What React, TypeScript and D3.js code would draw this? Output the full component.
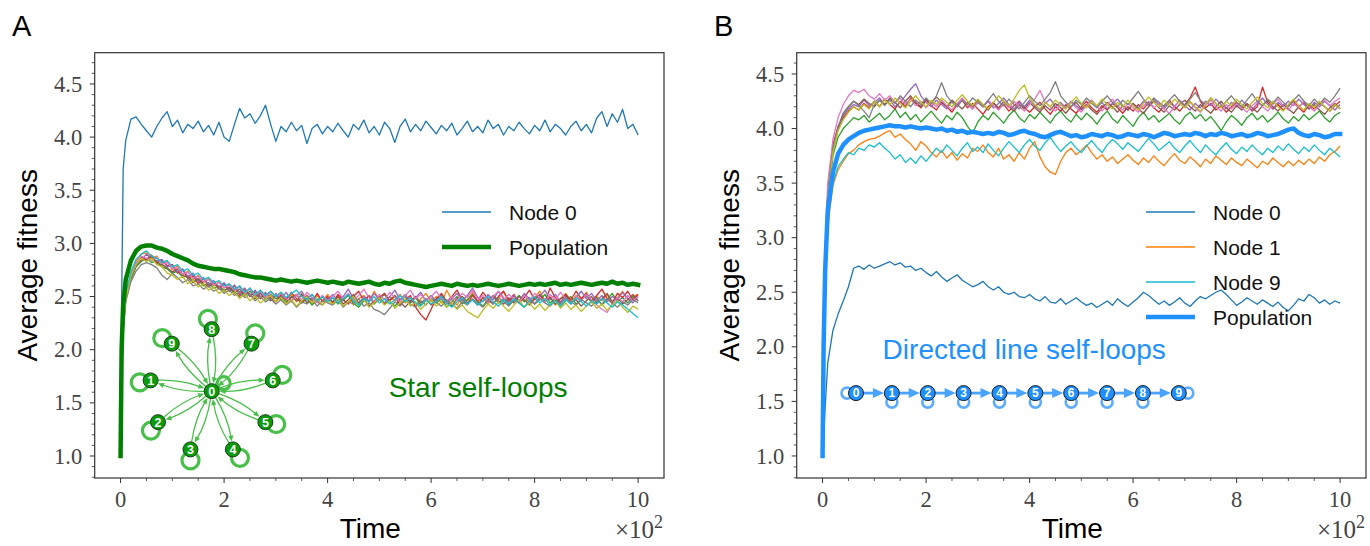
import React from 'react';
import * as d3 from 'd3';

// Sampling grid of time (units of 10^2)
const TIME: number[] = [0, 0.02, 0.05, ...d3.range(1, 101).map((i) => i / 10)];

// ---------- Panel A : star with self-loops ----------
const A_NODE0 = [1.0, 2.4, 3.7,
  3.97, 4.17, 4.19, 4.12, 4.06, 4.0, 4.1, 4.18, 4.24, 4.1,
  4.16, 4.04, 4.12, 4.08, 4.15, 4.05, 4.11, 4.02, 4.14, 4.0,
  3.96, 4.12, 4.27, 4.18, 4.22, 4.13, 4.2, 4.3, 4.12, 3.96,
  4.1, 4.05, 4.14, 4.06, 4.11, 3.94, 4.08, 4.12, 4.03, 4.1,
  4.05, 4.13, 4.06, 4.0, 4.12, 4.07, 4.16, 4.04, 4.1, 4.02,
  4.14, 4.08, 3.95, 4.1, 4.17, 4.05, 4.12, 4.06, 4.15, 4.09,
  4.03, 4.11, 4.06, 4.13, 4.02, 4.08, 4.15, 4.05, 4.1, 4.04,
  4.16, 4.08, 4.12, 4.02, 4.1, 4.06, 4.14, 4.08, 4.03, 4.11,
  4.06, 4.16, 4.05, 4.12, 4.08, 4.02, 4.1, 4.15, 4.06, 4.12,
  4.04, 4.18, 4.24, 4.1, 4.22, 4.14, 4.26, 4.08, 4.12, 4.02];
const A_NODE1 = [1.0, 1.72, 2.22,
  2.5, 2.72, 2.83, 2.9, 2.91, 2.86, 2.88, 2.8, 2.83, 2.75,
  2.79, 2.7, 2.74, 2.66, 2.7, 2.63, 2.67, 2.6, 2.64, 2.58,
  2.62, 2.55, 2.6, 2.52, 2.58, 2.5, 2.56, 2.49, 2.55, 2.5,
  2.54, 2.47, 2.52, 2.45, 2.53, 2.48, 2.43, 2.51, 2.46, 2.52,
  2.44, 2.5, 2.46, 2.53, 2.42, 2.48, 2.51, 2.45, 2.55, 2.47,
  2.43, 2.5, 2.46, 2.52, 2.44, 2.49, 2.41, 2.48, 2.53, 2.45,
  2.5, 2.44, 2.56, 2.47, 2.42, 2.5, 2.46, 2.54, 2.45, 2.49,
  2.43, 2.51, 2.47, 2.55, 2.44, 2.5, 2.46, 2.52, 2.43, 2.49,
  2.55, 2.46, 2.5, 2.42, 2.48, 2.53, 2.45, 2.51, 2.47, 2.54,
  2.44, 2.5, 2.46, 2.52, 2.43, 2.49, 2.55, 2.47, 2.5, 2.52];
const A_NODE2 = [1.0, 1.68, 2.18,
  2.47, 2.66, 2.78, 2.83, 2.86, 2.82, 2.84, 2.78, 2.76, 2.72,
  2.74, 2.68, 2.7, 2.64, 2.66, 2.6, 2.63, 2.58, 2.6, 2.56,
  2.58, 2.53, 2.57, 2.51, 2.55, 2.5, 2.54, 2.47, 2.52, 2.48,
  2.5, 2.45, 2.49, 2.52, 2.44, 2.48, 2.42, 2.47, 2.5, 2.45,
  2.49, 2.43, 2.47, 2.51, 2.44, 2.4, 2.46, 2.5, 2.43, 2.48,
  2.52, 2.45, 2.41, 2.47, 2.5, 2.44, 2.49, 2.42, 2.46, 2.51,
  2.44, 2.48, 2.4, 2.45, 2.5, 2.43, 2.47, 2.52, 2.45, 2.41,
  2.47, 2.5, 2.44, 2.48, 2.42, 2.46, 2.51, 2.45, 2.49, 2.43,
  2.47, 2.52, 2.44, 2.48, 2.41, 2.46, 2.5, 2.43, 2.47, 2.51,
  2.45, 2.49, 2.42, 2.47, 2.53, 2.45, 2.49, 2.44, 2.5, 2.46];
const A_NODE3 = [1.0, 1.7, 2.21,
  2.52, 2.71, 2.8, 2.87, 2.85, 2.89, 2.82, 2.84, 2.79, 2.8,
  2.72, 2.75, 2.67, 2.7, 2.62, 2.67, 2.6, 2.64, 2.57, 2.62,
  2.55, 2.6, 2.52, 2.57, 2.5, 2.55, 2.48, 2.53, 2.49, 2.45,
  2.52, 2.47, 2.54, 2.48, 2.44, 2.51, 2.46, 2.53, 2.45, 2.5,
  2.44, 2.52, 2.47, 2.43, 2.5, 2.55, 2.46, 2.51, 2.44, 2.49,
  2.53, 2.46, 2.5, 2.42, 2.47, 2.51, 2.4, 2.33, 2.28, 2.38,
  2.48, 2.53, 2.45, 2.5, 2.56, 2.47, 2.43, 2.51, 2.46, 2.54,
  2.48, 2.43, 2.5, 2.55, 2.46, 2.52, 2.44, 2.49, 2.56, 2.47,
  2.51, 2.45, 2.58, 2.49, 2.44, 2.52, 2.47, 2.55, 2.48, 2.53,
  2.46, 2.51, 2.57, 2.48, 2.44, 2.53, 2.49, 2.55, 2.47, 2.52];
const A_NODE4 = [1.0, 1.71, 2.2,
  2.49, 2.69, 2.82, 2.84, 2.9, 2.85, 2.83, 2.85, 2.78, 2.79,
  2.73, 2.76, 2.69, 2.72, 2.64, 2.68, 2.61, 2.65, 2.59, 2.63,
  2.56, 2.61, 2.54, 2.58, 2.51, 2.56, 2.5, 2.54, 2.47, 2.53,
  2.48, 2.54, 2.46, 2.51, 2.55, 2.47, 2.52, 2.45, 2.5, 2.47,
  2.52, 2.46, 2.5, 2.57, 2.48, 2.43, 2.5, 2.46, 2.53, 2.47,
  2.44, 2.5, 2.56, 2.47, 2.52, 2.45, 2.49, 2.54, 2.46, 2.51,
  2.45, 2.5, 2.43, 2.48, 2.53, 2.46, 2.51, 2.58, 2.49, 2.45,
  2.52, 2.47, 2.55, 2.49, 2.44, 2.51, 2.46, 2.53, 2.48, 2.43,
  2.5, 2.56, 2.47, 2.52, 2.45, 2.5, 2.44, 2.49, 2.55, 2.48,
  2.53, 2.46, 2.51, 2.45, 2.5, 2.47, 2.54, 2.48, 2.44, 2.5];
const A_NODE5 = [1.0, 1.69, 2.19,
  2.48, 2.68, 2.79, 2.85, 2.84, 2.88, 2.81, 2.8, 2.77, 2.73,
  2.76, 2.7, 2.68, 2.63, 2.67, 2.62, 2.59, 2.63, 2.58, 2.55,
  2.59, 2.54, 2.5, 2.55, 2.52, 2.48, 2.53, 2.5, 2.46, 2.51,
  2.47, 2.43, 2.5, 2.46, 2.52, 2.44, 2.49, 2.45, 2.42, 2.48,
  2.45, 2.5, 2.43, 2.47, 2.52, 2.44, 2.48, 2.41, 2.46, 2.5,
  2.43, 2.47, 2.51, 2.45, 2.4, 2.46, 2.5, 2.44, 2.48, 2.42,
  2.47, 2.52, 2.45, 2.41, 2.48, 2.5, 2.44, 2.47, 2.42, 2.49,
  2.45, 2.51, 2.46, 2.43, 2.49, 2.44, 2.5, 2.47, 2.42, 2.48,
  2.52, 2.45, 2.49, 2.43, 2.48, 2.51, 2.44, 2.47, 2.41, 2.46,
  2.5, 2.44, 2.48, 2.53, 2.45, 2.49, 2.43, 2.47, 2.52, 2.46];
const A_NODE6 = [1.0, 1.7, 2.2,
  2.51, 2.7, 2.81, 2.88, 2.86, 2.84, 2.87, 2.81, 2.82, 2.76,
  2.77, 2.71, 2.73, 2.67, 2.69, 2.64, 2.66, 2.61, 2.63, 2.58,
  2.61, 2.56, 2.59, 2.53, 2.57, 2.51, 2.55, 2.49, 2.54, 2.5,
  2.53, 2.48, 2.45, 2.52, 2.47, 2.54, 2.49, 2.44, 2.51, 2.46,
  2.5, 2.55, 2.48, 2.53, 2.46, 2.51, 2.57, 2.49, 2.45, 2.52,
  2.47, 2.54, 2.49, 2.45, 2.51, 2.56, 2.48, 2.52, 2.46, 2.5,
  2.55, 2.48, 2.44, 2.5, 2.46, 2.53, 2.49, 2.56, 2.47, 2.51,
  2.45, 2.5, 2.55, 2.47, 2.52, 2.48, 2.44, 2.51, 2.46, 2.53,
  2.49, 2.45, 2.52, 2.47, 2.54, 2.48, 2.43, 2.5, 2.46, 2.52,
  2.47, 2.42, 2.38, 2.35, 2.43, 2.49, 2.45, 2.51, 2.46, 2.5];
const A_NODE7 = [1.0, 1.68, 2.16,
  2.45, 2.64, 2.74, 2.8, 2.82, 2.8, 2.77, 2.7, 2.66, 2.72,
  2.68, 2.63, 2.66, 2.6, 2.62, 2.57, 2.6, 2.55, 2.58, 2.53,
  2.56, 2.51, 2.54, 2.49, 2.52, 2.46, 2.5, 2.45, 2.48, 2.43,
  2.47, 2.42, 2.46, 2.4, 2.45, 2.43, 2.47, 2.41, 2.46, 2.44,
  2.42, 2.47, 2.4, 2.45, 2.43, 2.48, 2.41, 2.44, 2.38, 2.36,
  2.33, 2.39, 2.45, 2.41, 2.47, 2.43, 2.4, 2.46, 2.42, 2.48,
  2.44, 2.41, 2.47, 2.43, 2.39, 2.45, 2.42, 2.48, 2.44, 2.4,
  2.46, 2.43, 2.49, 2.45, 2.41, 2.47, 2.44, 2.4, 2.46, 2.43,
  2.48, 2.44, 2.41, 2.46, 2.43, 2.49, 2.45, 2.42, 2.47, 2.44,
  2.41, 2.46, 2.43, 2.48, 2.44, 2.4, 2.45, 2.42, 2.47, 2.44];
const A_NODE8 = [1.0, 1.7, 2.19,
  2.48, 2.69, 2.8, 2.86, 2.83, 2.86, 2.8, 2.78, 2.72, 2.7,
  2.66, 2.69, 2.62, 2.65, 2.59, 2.62, 2.56, 2.59, 2.53, 2.56,
  2.51, 2.54, 2.48, 2.52, 2.46, 2.5, 2.44, 2.48, 2.51, 2.45,
  2.49, 2.43, 2.47, 2.41, 2.46, 2.5, 2.44, 2.48, 2.42, 2.46,
  2.43, 2.48, 2.41, 2.45, 2.5, 2.42, 2.47, 2.4, 2.44, 2.49,
  2.42, 2.46, 2.39, 2.44, 2.48, 2.41, 2.45, 2.38, 2.43, 2.47,
  2.41, 2.45, 2.4, 2.44, 2.38, 2.42, 2.36, 2.33, 2.3, 2.37,
  2.43, 2.39, 2.45, 2.41, 2.36, 2.42, 2.47, 2.4, 2.44, 2.38,
  2.43, 2.37, 2.42, 2.46, 2.39, 2.44, 2.38, 2.42, 2.36, 2.41,
  2.45, 2.39, 2.43, 2.37, 2.42, 2.46, 2.4, 2.35, 2.41, 2.38];
const A_NODE9 = [1.0, 1.72, 2.23,
  2.53, 2.73, 2.85, 2.9, 2.93, 2.88, 2.86, 2.82, 2.84, 2.78,
  2.8, 2.74, 2.76, 2.7, 2.72, 2.66, 2.68, 2.63, 2.65, 2.6,
  2.62, 2.57, 2.6, 2.54, 2.58, 2.52, 2.56, 2.51, 2.55, 2.5,
  2.54, 2.49, 2.53, 2.56, 2.5, 2.47, 2.52, 2.46, 2.5, 2.45,
  2.49, 2.44, 2.48, 2.52, 2.46, 2.42, 2.48, 2.45, 2.5, 2.44,
  2.48, 2.43, 2.47, 2.51, 2.45, 2.49, 2.44, 2.41, 2.47, 2.43,
  2.46, 2.5, 2.44, 2.4, 2.45, 2.49, 2.43, 2.47, 2.42, 2.46,
  2.5, 2.45, 2.41, 2.47, 2.43, 2.48, 2.44, 2.4, 2.46, 2.5,
  2.44, 2.48, 2.42, 2.46, 2.41, 2.47, 2.43, 2.49, 2.45, 2.41,
  2.46, 2.43, 2.48, 2.44, 2.4, 2.45, 2.42, 2.38, 2.34, 2.3];
const A_POP = [1.0, 2.0, 2.42,
  2.66, 2.84, 2.93, 2.97, 2.98, 2.98, 2.96, 2.95, 2.93, 2.9,
  2.88, 2.86, 2.84, 2.81, 2.79, 2.78, 2.77, 2.76, 2.76, 2.75,
  2.74, 2.73, 2.71, 2.7, 2.69, 2.68, 2.68, 2.67, 2.66, 2.65,
  2.66, 2.65, 2.64, 2.65, 2.64, 2.63, 2.64, 2.65, 2.64, 2.63,
  2.64, 2.63, 2.62, 2.64, 2.63, 2.62, 2.63, 2.64, 2.62, 2.61,
  2.63, 2.62, 2.64, 2.65, 2.63, 2.62, 2.61, 2.6, 2.59, 2.6,
  2.61, 2.62, 2.61, 2.6, 2.62, 2.61, 2.6, 2.61, 2.6, 2.61,
  2.62, 2.61, 2.6, 2.61, 2.62, 2.61, 2.6, 2.61, 2.62, 2.61,
  2.62, 2.61, 2.62, 2.63, 2.61, 2.62, 2.61, 2.62, 2.63, 2.62,
  2.61, 2.62, 2.63, 2.62, 2.64, 2.62, 2.63, 2.61, 2.62, 2.61];

// ---------- Panel B : directed line with self-loops ----------
const B_NODE0 = [1.0, 1.2, 1.45,
  1.85, 2.15, 2.3, 2.42, 2.55, 2.72, 2.74, 2.71, 2.75, 2.72,
  2.74, 2.76, 2.78, 2.75, 2.77, 2.73, 2.74, 2.7, 2.72, 2.68,
  2.65, 2.69, 2.64, 2.6, 2.63, 2.66, 2.61, 2.58, 2.55, 2.57,
  2.6, 2.55, 2.52, 2.55, 2.5, 2.48, 2.5, 2.46, 2.45, 2.48,
  2.44, 2.42, 2.46, 2.41, 2.4, 2.44, 2.39, 2.42, 2.45, 2.41,
  2.38, 2.4, 2.36, 2.39, 2.42, 2.38, 2.44, 2.4, 2.37, 2.41,
  2.45, 2.5, 2.47, 2.43, 2.39, 2.42, 2.38, 2.41, 2.45, 2.4,
  2.37, 2.42, 2.46, 2.44, 2.47, 2.5, 2.52, 2.48, 2.43, 2.38,
  2.41, 2.45, 2.42, 2.39, 2.43, 2.4, 2.37, 2.41, 2.36, 2.33,
  2.38, 2.44, 2.42, 2.48, 2.45, 2.4, 2.43, 2.39, 2.42, 2.4];
const B_NODE1 = [1.0, 1.9, 2.55,
  3.1, 3.48, 3.62, 3.7, 3.77, 3.8, 3.85, 3.88, 3.9, 3.91,
  3.93, 3.96, 3.98, 3.92, 3.95, 3.9, 3.86, 3.8, 3.88, 3.84,
  3.78, 3.74, 3.8, 3.73, 3.78, 3.71, 3.77, 3.73, 3.82, 3.79,
  3.85, 3.78, 3.74, 3.82, 3.72, 3.76, 3.7, 3.78, 3.72, 3.82,
  3.88, 3.74, 3.65, 3.6, 3.58, 3.7, 3.78, 3.82, 3.76, 3.8,
  3.85, 3.78, 3.72, 3.76, 3.7, 3.74, 3.68, 3.72, 3.76, 3.71,
  3.67, 3.73, 3.69, 3.75, 3.7, 3.66, 3.72, 3.77, 3.71, 3.68,
  3.74, 3.7, 3.65, 3.72, 3.68, 3.75, 3.71, 3.67, 3.73, 3.69,
  3.66, 3.72, 3.68, 3.64, 3.7, 3.67, 3.73, 3.69, 3.65, 3.7,
  3.66, 3.71, 3.67, 3.72, 3.68, 3.74, 3.7, 3.76, 3.79, 3.84];
const B_NODE2 = [1.0, 2.0, 2.78,
  3.35, 3.75, 3.92, 4.0, 4.05, 4.1, 4.08, 4.12, 4.06, 4.1,
  4.14, 4.08, 4.12, 4.18, 4.1, 4.15, 4.08, 4.13, 4.06, 4.11,
  4.16, 4.1, 4.05, 4.12, 4.08, 4.15, 4.1, 4.02, 3.96, 4.06,
  4.12, 4.08, 4.15, 4.1, 4.05, 4.12, 4.17, 4.1, 4.06, 4.13,
  4.09, 4.15, 4.1, 4.05, 4.12, 4.16, 4.1, 4.06, 4.13, 4.08,
  4.14, 4.1, 4.04, 4.11, 4.16, 4.09, 4.05, 4.12, 4.07, 4.02,
  4.1, 4.15, 4.08, 4.12, 4.06, 4.1, 4.14, 4.08, 4.04, 4.11,
  4.15, 4.09, 4.13, 4.07, 4.11, 4.05, 3.98, 4.06, 4.12, 4.08,
  4.03, 4.1, 4.14, 4.08, 4.12, 4.06, 4.1, 4.15, 4.09, 4.05,
  4.11, 4.07, 4.13, 4.08, 4.12, 4.16, 4.1, 4.06, 4.12, 4.15];
const B_NODE3 = [1.0, 2.05, 2.85,
  3.42, 3.85, 4.02, 4.1, 4.16, 4.2, 4.17, 4.23, 4.19, 4.25,
  4.2, 4.27, 4.22, 4.18, 4.25, 4.2, 4.28, 4.23, 4.19, 4.26,
  4.21, 4.17, 4.24, 4.2, 4.15, 4.22, 4.26, 4.19, 4.23, 4.18,
  4.13, 4.2, 4.24, 4.18, 4.22, 4.16, 4.21, 4.25, 4.19, 4.15,
  4.2, 4.24, 4.18, 4.13, 4.2, 4.16, 4.22, 4.18, 4.14, 4.2,
  4.25, 4.19, 4.15, 4.21, 4.17, 4.23, 4.19, 4.14, 4.2, 4.16,
  4.22, 4.18, 4.24, 4.19, 4.15, 4.21, 4.26, 4.2, 4.16, 4.22,
  4.28, 4.38, 4.25, 4.19, 4.23, 4.17, 4.21, 4.15, 4.2, 4.24,
  4.19, 4.22, 4.16, 4.2, 4.38, 4.24, 4.18, 4.22, 4.17, 4.21,
  4.25, 4.19, 4.15, 4.22, 4.18, 4.24, 4.2, 4.16, 4.21, 4.25];
const B_NODE4 = [1.0, 2.02, 2.82,
  3.4, 3.82, 4.0, 4.12, 4.18, 4.22, 4.2, 4.26, 4.21, 4.24,
  4.28, 4.22, 4.26, 4.2, 4.24, 4.3, 4.36, 4.41, 4.3, 4.24,
  4.2, 4.26, 4.22, 4.18, 4.25, 4.21, 4.27, 4.22, 4.18, 4.24,
  4.2, 4.25, 4.19, 4.23, 4.28, 4.22, 4.18, 4.24, 4.2, 4.26,
  4.21, 4.17, 4.23, 4.27, 4.2, 4.24, 4.19, 4.25, 4.21, 4.17,
  4.22, 4.26, 4.2, 4.24, 4.18, 4.23, 4.27, 4.21, 4.17, 4.23,
  4.19, 4.25, 4.21, 4.27, 4.22, 4.18, 4.24, 4.2, 4.26, 4.21,
  4.17, 4.23, 4.19, 4.25, 4.21, 4.27, 4.22, 4.18, 4.24, 4.2,
  4.26, 4.21, 4.17, 4.23, 4.28, 4.22, 4.18, 4.24, 4.2, 4.25,
  4.21, 4.27, 4.22, 4.18, 4.24, 4.2, 4.25, 4.21, 4.17, 4.22];
const B_NODE5 = [1.0, 2.0, 2.8,
  3.38, 3.8, 4.0, 4.14, 4.2, 4.25, 4.22, 4.27, 4.23, 4.2,
  4.26, 4.22, 4.28, 4.24, 4.19, 4.25, 4.3, 4.24, 4.2, 4.27,
  4.23, 4.29, 4.24, 4.2, 4.26, 4.22, 4.18, 4.24, 4.2, 4.26,
  4.22, 4.17, 4.23, 4.19, 4.25, 4.2, 4.16, 4.22, 4.18, 4.24,
  4.19, 4.15, 4.21, 4.17, 4.23, 4.19, 4.14, 4.2, 4.24, 4.18,
  4.22, 4.17, 4.13, 4.19, 4.24, 4.2, 4.15, 4.21, 4.17, 4.23,
  4.18, 4.14, 4.2, 4.25, 4.19, 4.15, 4.21, 4.17, 4.22, 4.26,
  4.2, 4.16, 4.22, 4.18, 4.14, 4.2, 4.25, 4.19, 4.15, 4.21,
  4.17, 4.23, 4.19, 4.15, 4.21, 4.26, 4.2, 4.16, 4.22, 4.18,
  4.14, 4.2, 4.24, 4.18, 4.22, 4.17, 4.13, 4.19, 4.23, 4.18];
const B_NODE6 = [1.0, 2.1, 2.9,
  3.5, 3.9, 4.1, 4.22, 4.3, 4.35, 4.33, 4.36, 4.3, 4.27,
  4.32, 4.26, 4.3, 4.24, 4.28, 4.22, 4.27, 4.21, 4.25, 4.19,
  4.24, 4.2, 4.26, 4.21, 4.17, 4.23, 4.28, 4.22, 4.18, 4.24,
  4.2, 4.26, 4.21, 4.17, 4.23, 4.19, 4.25, 4.2, 4.16, 4.22,
  4.27, 4.35, 4.24, 4.2, 4.16, 4.22, 4.18, 4.24, 4.19, 4.15,
  4.21, 4.26, 4.2, 4.16, 4.22, 4.27, 4.21, 4.17, 4.23, 4.19,
  4.15, 4.21, 4.25, 4.19, 4.23, 4.18, 4.14, 4.2, 4.26, 4.2,
  4.24, 4.19, 4.15, 4.21, 4.26, 4.2, 4.16, 4.22, 4.18, 4.23,
  4.19, 4.15, 4.21, 4.25, 4.2, 4.16, 4.22, 4.27, 4.21, 4.17,
  4.23, 4.19, 4.25, 4.2, 4.16, 4.22, 4.26, 4.21, 4.25, 4.28];
const B_NODE7 = [1.0, 2.0, 2.8,
  3.38, 3.82, 4.02, 4.14, 4.2, 4.25, 4.21, 4.16, 4.1, 4.22,
  4.26, 4.21, 4.27, 4.23, 4.3, 4.25, 4.2, 4.26, 4.22, 4.28,
  4.23, 4.3, 4.42, 4.3, 4.24, 4.2, 4.26, 4.22, 4.28, 4.24,
  4.2, 4.26, 4.32, 4.25, 4.21, 4.27, 4.22, 4.18, 4.24, 4.3,
  4.25, 4.21, 4.27, 4.33, 4.43, 4.3, 4.24, 4.2, 4.26, 4.22,
  4.28, 4.23, 4.19, 4.25, 4.3, 4.24, 4.2, 4.26, 4.22, 4.28,
  4.34, 4.27, 4.22, 4.28, 4.24, 4.2, 4.26, 4.31, 4.25, 4.21,
  4.27, 4.33, 4.26, 4.22, 4.28, 4.23, 4.19, 4.25, 4.3, 4.24,
  4.2, 4.26, 4.32, 4.25, 4.21, 4.27, 4.23, 4.29, 4.24, 4.2,
  4.26, 4.31, 4.25, 4.21, 4.27, 4.22, 4.28, 4.24, 4.3, 4.37];
const B_NODE8 = [1.0, 2.0, 2.8,
  3.36, 3.78, 3.98, 4.08, 4.15, 4.2, 4.17, 4.22, 4.18, 4.25,
  4.2, 4.26, 4.22, 4.28, 4.23, 4.19, 4.25, 4.3, 4.24, 4.2,
  4.26, 4.22, 4.28, 4.24, 4.2, 4.26, 4.31, 4.25, 4.21, 4.27,
  4.22, 4.18, 4.24, 4.3, 4.25, 4.21, 4.27, 4.35, 4.4, 4.28,
  4.22, 4.18, 4.24, 4.2, 4.26, 4.22, 4.18, 4.24, 4.29, 4.23,
  4.19, 4.25, 4.21, 4.27, 4.22, 4.18, 4.24, 4.2, 4.26, 4.21,
  4.17, 4.23, 4.29, 4.24, 4.2, 4.26, 4.21, 4.27, 4.23, 4.19,
  4.25, 4.2, 4.16, 4.22, 4.28, 4.23, 4.19, 4.25, 4.21, 4.27,
  4.22, 4.18, 4.24, 4.29, 4.23, 4.19, 4.25, 4.2, 4.16, 4.22,
  4.27, 4.21, 4.17, 4.23, 4.19, 4.25, 4.2, 4.16, 4.22, 4.18];
const B_NODE9 = [1.0, 1.95, 2.6,
  3.15, 3.5, 3.65, 3.72, 3.78, 3.76, 3.82, 3.8, 3.85, 3.83,
  3.87, 3.82, 3.78, 3.72, 3.76, 3.69, 3.73, 3.68, 3.75, 3.7,
  3.76, 3.82, 3.78, 3.85, 3.8, 3.75, 3.82, 3.87, 3.79, 3.83,
  3.78, 3.86, 3.8, 3.75, 3.82, 3.88, 3.83, 3.78, 3.85, 3.9,
  3.84, 3.8, 3.87, 3.92, 3.85, 3.79, 3.84, 3.88, 3.82, 3.78,
  3.84, 3.89, 3.83, 3.78, 3.85, 3.9, 3.86, 3.81, 3.87, 3.83,
  3.79, 3.85, 3.91, 3.86, 3.8, 3.84, 3.88, 3.82, 3.78, 3.84,
  3.89, 3.83, 3.78, 3.85, 3.8, 3.76, 3.82, 3.87, 3.81, 3.77,
  3.83, 3.79, 3.85, 3.8, 3.76, 3.82, 3.78, 3.84, 3.8, 3.86,
  3.81, 3.77, 3.83, 3.79, 3.85, 3.8, 3.76, 3.82, 3.78, 3.74];
const B_POP = [1.0, 2.0, 2.7,
  3.25, 3.6, 3.77, 3.85, 3.9, 3.93, 3.96, 3.98, 3.99, 4.0,
  4.01, 4.02, 4.03, 4.02, 4.02, 4.01, 4.02, 4.01, 4.0, 4.01,
  4.0, 3.99, 4.0, 3.98, 3.99, 3.97, 3.98, 3.96, 3.97, 3.96,
  3.95, 3.96, 3.95, 3.97, 3.96, 3.94, 3.95, 3.97, 3.98, 3.96,
  3.95, 3.93, 3.92, 3.94, 3.96, 3.97, 3.95, 3.93, 3.94, 3.92,
  3.93, 3.95, 3.94, 3.93, 3.95, 3.94, 3.92, 3.93, 3.95, 3.94,
  3.93, 3.95, 3.94, 3.92, 3.94, 3.96, 3.95, 3.93, 3.94, 3.95,
  3.94, 3.96, 3.95, 3.93, 3.95, 3.94, 3.96, 3.95, 3.93, 3.94,
  3.95, 3.93, 3.94, 3.96, 3.95, 3.93, 3.94, 3.95, 3.97, 3.99,
  4.0, 3.96, 3.94, 3.93, 3.95, 3.94, 3.92, 3.93, 3.95, 3.95];

const TAB10 = ['#1f77b4', '#ff7f0e', '#2ca02c', '#d62728', '#9467bd', '#8c564b', '#e377c2', '#7f7f7f', '#bcbd22', '#17becf'];
const X_TICKS = [0, 2, 4, 6, 8, 10];
const Y_TICKS = [1.0, 1.5, 2.0, 2.5, 3.0, 3.5, 4.0, 4.5];
const GRAPH_NODES = [0, 1, 2, 3, 4, 5, 6, 7, 8, 9];

const SERIF = "'Liberation Serif', 'DejaVu Serif', serif";
const SANS = "'Liberation Sans', Arial, Helvetica, sans-serif";

type Pt = [number, number];
type Series = { values: number[]; color: string; width: number };
type LegendItem = { label: string; color: string; width: number };

function unit(dx: number, dy: number): Pt {
  const l = Math.hypot(dx, dy) || 1;
  return [dx / l, dy / l];
}
function arrowHead(tip: Pt, dir: Pt, L: number, W: number): string {
  const [ux, uy] = dir;
  const bx = tip[0] - ux * L;
  const by = tip[1] - uy * L;
  return `M${tip[0]},${tip[1]}L${bx - uy * W},${by + ux * W}L${bx + uy * W},${by - ux * W}Z`;
}

function StarGraph({ cx, cy }: { cx: number; cy: number }) {
  const R = 62;
  const r = 7.5;
  const edgeColor = '#48bf48';
  const pos: Pt[] = GRAPH_NODES.map((k) => {
    if (k === 0) return [cx, cy];
    const a = ((170 + 40 * (k - 1)) * Math.PI) / 180;
    return [cx + R * Math.cos(a), cy - R * Math.sin(a)];
  });
  const edges: { d: string; head: string }[] = [];
  const curved = (a: Pt, b: Pt) => {
    const rad = 0.1;
    const mx = (a[0] + b[0]) / 2, my = (a[1] + b[1]) / 2;
    const dx = b[0] - a[0], dy = b[1] - a[1];
    const c: Pt = [mx + rad * dy, my - rad * dx];
    const ua = unit(c[0] - a[0], c[1] - a[1]);
    const ub = unit(c[0] - b[0], c[1] - b[1]);
    const s: Pt = [a[0] + ua[0] * r, a[1] + ua[1] * r];
    const e: Pt = [b[0] + ub[0] * (r + 0.5), b[1] + ub[1] * (r + 0.5)];
    const dir = unit(e[0] - c[0], e[1] - c[1]);
    const lineEnd: Pt = [e[0] - dir[0] * 4, e[1] - dir[1] * 4];
    edges.push({ d: `M${s[0]},${s[1]}Q${c[0]},${c[1]} ${lineEnd[0]},${lineEnd[1]}`, head: arrowHead(e, dir, 6, 2.6) });
  };
  GRAPH_NODES.slice(1).forEach((k) => {
    curved(pos[0], pos[k]);
    curved(pos[k], pos[0]);
  });
  const loops = GRAPH_NODES.map((k) => {
    if (k === 0) return { x: cx + 12, y: cy - 8, rr: 6.5, a: 0.6 };
    const a = ((170 + 40 * (k - 1)) * Math.PI) / 180;
    // loops sit just outside each leaf, slightly rotated
    const b = a + 0.35;
    return { x: pos[k][0] + 11 * Math.cos(b), y: pos[k][1] - 11 * Math.sin(b), rr: 8.5, a: b };
  });
  return (
    <g>
      {loops.map((l, i) => (
        <g key={'l' + i}>
          <circle cx={l.x} cy={l.y} r={l.rr} fill="none" stroke={edgeColor} strokeWidth={3.2} />
        </g>
      ))}
      {edges.map((e, i) => (
        <g key={'e' + i}>
          <path d={e.d} fill="none" stroke={edgeColor} strokeWidth={1.3} />
          <path d={e.head} fill={edgeColor} />
        </g>
      ))}
      {GRAPH_NODES.map((k) => (
        <g key={'n' + k}>
          <circle cx={pos[k][0]} cy={pos[k][1]} r={r} fill="#0a9a0a" stroke="#1c3d1c" strokeWidth={1} />
          <text x={pos[k][0]} y={pos[k][1]} dy="0.36em" textAnchor="middle" fill="#fff" fontFamily={SANS} fontWeight="bold" fontSize={12.5}>
            {k}
          </text>
        </g>
      ))}
    </g>
  );
}

function LineGraph({ x0, step, cy }: { x0: number; step: number; cy: number }) {
  const r = 7.5;
  const col = '#4aa3ff';
  const xs = GRAPH_NODES.map((k) => x0 + step * k);
  return (
    <g>
      {GRAPH_NODES.map((k) => {
        let lx = xs[k], ly = cy + 9;
        if (k === 0) { lx = xs[k] - 9; ly = cy; }
        if (k === 9) { lx = xs[k] + 9; ly = cy; }
        return <circle key={'l' + k} cx={lx} cy={ly} r={5.5} fill="none" stroke={col} strokeWidth={2.6} opacity={0.9} />;
      })}
      {GRAPH_NODES.slice(0, 9).map((k) => {
        const s = xs[k] + r;
        const e = xs[k + 1] - r - 0.5;
        return (
          <g key={'e' + k}>
            <line x1={s} y1={cy} x2={e - 8} y2={cy} stroke={col} strokeWidth={2.8} />
            <path d={arrowHead([e, cy], [1, 0], 11, 5)} fill={col} />
          </g>
        );
      })}
      {GRAPH_NODES.map((k) => (
        <g key={'n' + k}>
          <circle cx={xs[k]} cy={cy} r={r} fill="#1e8fff" stroke="#1b1b1b" strokeWidth={1} />
          <text x={xs[k]} y={cy} dy="0.36em" textAnchor="middle" fill="#fff" fontFamily={SANS} fontWeight="bold" fontSize={12}>
            {k}
          </text>
        </g>
      ))}
    </g>
  );
}

const FRAME = { left: 94.7, right: 664, top: 52.7, bottom: 478 };

function Panel(props: {
  dx: number;
  yDomain: [number, number];
  series: Series[];
  legend: LegendItem[];
  legendX: number;
  label: string;
  children?: (x: d3.ScaleLinear<number, number>, y: d3.ScaleLinear<number, number>) => React.ReactNode;
}) {
  const { dx, yDomain, series, legend, legendX, label } = props;
  const L = FRAME.left + dx, R = FRAME.right + dx, T = FRAME.top, B = FRAME.bottom;
  const x = d3.scaleLinear().domain([-0.5, 10.5]).range([L, R]);
  const y = d3.scaleLinear().domain(yDomain).range([B, T]);
  const line = d3
    .line<number>()
    .defined((_, i) => i < TIME.length)
    .x((_, i) => x(TIME[i]))
    .y((d) => y(d));
  const yMinor = d3.range(8, 48).filter((i) => i % 5 !== 0).map((i) => i / 10).filter((v) => v > yDomain[0] && v < yDomain[1]);
  const xMinor = d3.range(0, 21).filter((i) => i % 4 !== 0).map((i) => i / 2);
  const axisCol = '#333';
  return (
    <g>
      <text x={dx + 12} y={36} fontFamily={SANS} fontSize={29} fill="#000">{label}</text>
      {series.map((s, i) => (
        <path key={i} d={line(s.values) || ''} fill="none" stroke={s.color} strokeWidth={s.width}
          strokeLinejoin="round" strokeLinecap={s.width > 2 ? 'square' : 'butt'} />
      ))}
      {props.children ? props.children(x, y) : null}
      {legend.map((it, i) => {
        const ly = 212 + 35 * i;
        return (
          <g key={'lg' + i}>
            <line x1={legendX} x2={legendX + 49} y1={ly} y2={ly} stroke={it.color} strokeWidth={it.width} />
            <text x={legendX + 67} y={ly} dy="0.36em" fontFamily={SANS} fontSize={21} fill="#111">{it.label}</text>
          </g>
        );
      })}
      <rect x={L} y={T} width={R - L} height={B - T} fill="none" stroke={axisCol} strokeWidth={1.2} />
      {Y_TICKS.map((v) => (
        <g key={'yt' + v}>
          <line x1={L - 5} x2={L} y1={y(v)} y2={y(v)} stroke={axisCol} strokeWidth={1} />
          <text x={L - 12.5} y={y(v)} dy="0.34em" textAnchor="end" fontFamily={SERIF} fontSize={22.5} fill="#444">
            {v.toFixed(1)}
          </text>
        </g>
      ))}
      {yMinor.map((v) => (
        <line key={'ym' + v} x1={L - 3} x2={L} y1={y(v)} y2={y(v)} stroke={axisCol} strokeWidth={0.8} />
      ))}
      {X_TICKS.map((v) => (
        <g key={'xt' + v}>
          <line x1={x(v)} x2={x(v)} y1={B} y2={B + 5} stroke={axisCol} strokeWidth={1} />
          <text x={x(v)} y={507} textAnchor="middle" fontFamily={SERIF} fontSize={22.5} fill="#444">{v}</text>
        </g>
      ))}
      {xMinor.map((v) => (
        <line key={'xm' + v} x1={x(v)} x2={x(v)} y1={B} y2={B + 3} stroke={axisCol} strokeWidth={0.8} />
      ))}
      <text x={R - 1} y={538} textAnchor="end" fontFamily={SERIF} fontSize={25} fill="#444">
        ×10<tspan dy={-10} fontSize={18}>2</tspan>
      </text>
      <text x={(L + R) / 2 - 9} y={538} textAnchor="middle" fontFamily={SANS} fontSize={28} fill="#000">Time</text>
      <text transform={`translate(${dx + 37},${(T + B) / 2}) rotate(-90)`} textAnchor="middle" fontFamily={SANS} fontSize={28} fill="#000">
        Average fitness
      </text>
    </g>
  );
}

export default function App() {
  const aNodes = [A_NODE1, A_NODE2, A_NODE3, A_NODE4, A_NODE5, A_NODE6, A_NODE7, A_NODE8, A_NODE9];
  const seriesA: Series[] = [
    { values: A_NODE0, color: TAB10[0], width: 1.3 },
    ...aNodes.map((v, i) => ({ values: v, color: TAB10[i + 1], width: 1.3 })),
    { values: A_POP, color: '#008000', width: 4.5 },
  ];
  const bNodes = [B_NODE0, B_NODE1, B_NODE2, B_NODE3, B_NODE4, B_NODE5, B_NODE6, B_NODE7, B_NODE8, B_NODE9];
  const seriesB: Series[] = [
    ...bNodes.map((v, i) => ({ values: v, color: TAB10[i], width: 1.3 })),
    { values: B_POP, color: '#1e90ff', width: 4.5 },
  ];
  return (
    <svg width={1370} height={546} style={{ position: 'absolute', left: 0, top: 0, background: '#fff' }}>
      <rect width={1370} height={546} fill="#fff" />
      <Panel
        dx={0}
        yDomain={[0.793, 4.794]}
        series={seriesA}
        legendX={442}
        legend={[
          { label: 'Node 0', color: TAB10[0], width: 1.3 },
          { label: 'Population', color: '#008000', width: 4.5 },
        ]}
        label="A"
      >
        {(x, y) => (
          <g>
            <StarGraph cx={x(1.76)} cy={y(1.61)} />
            <text x={x(5.18)} y={y(1.61) + 6} fontFamily={SANS} fontSize={28} fill="#008000">Star self-loops</text>
          </g>
        )}
      </Panel>
      <Panel
        dx={702}
        yDomain={[0.798, 4.695]}
        series={seriesB}
        legendX={1146}
        legend={[
          { label: 'Node 0', color: TAB10[0], width: 1.3 },
          { label: 'Node 1', color: TAB10[1], width: 1.3 },
          { label: 'Node 9', color: TAB10[9], width: 1.3 },
          { label: 'Population', color: '#1e90ff', width: 4.5 },
        ]}
        label="B"
      >
        {(x, y) => (
          <g>
            <LineGraph x0={x(0.646)} step={x(0.693) - x(0)} cy={y(1.576)} />
            <text x={x(1.16)} y={y(2.0) + 12} fontFamily={SANS} fontSize={28} fill="#1e90ff">Directed line self-loops</text>
          </g>
        )}
      </Panel>
    </svg>
  );
}
